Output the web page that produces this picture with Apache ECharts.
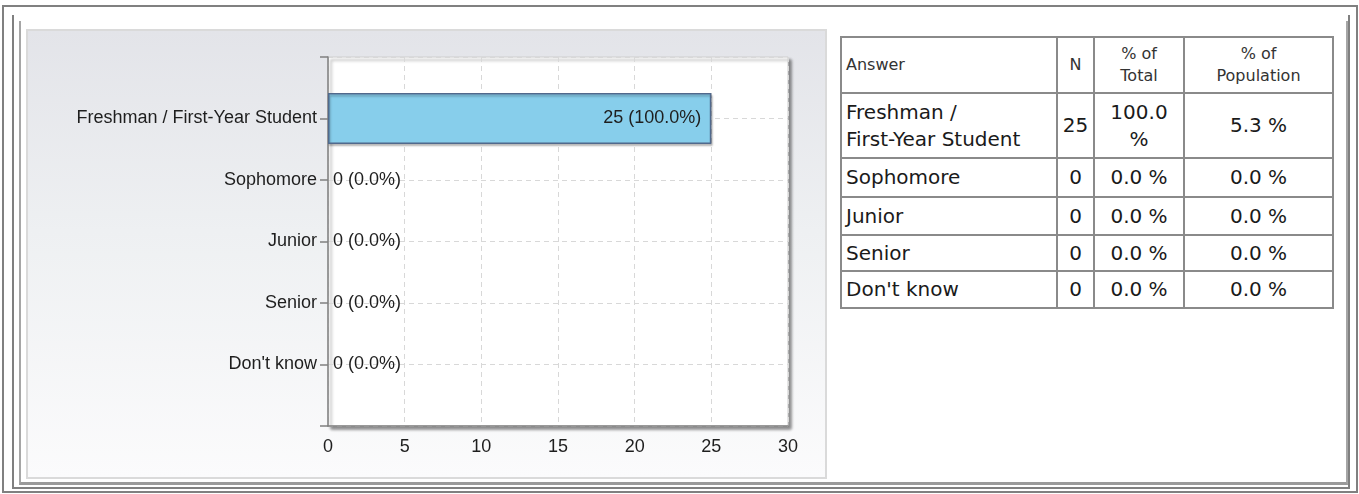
<!DOCTYPE html>
<html>
<head>
<meta charset="utf-8">
<script src="https://cdn.jsdelivr.net/npm/echarts@6/dist/echarts.min.js"></script>
<style>
    html, body { margin: 0; padding: 0; background: #fff; }
    body { width: 1359px; height: 494px; position: relative; overflow: hidden; }
    .frame { position: absolute; box-sizing: border-box; }
    #outer { left: 2px; top: 5px; width: 1356px; height: 488px; border: 2px solid #808080; }
    #inner1 { left: 12px; top: 15px; width: 1338px; height: 474px; border: 2px solid #808080; border-top: none; }
    #inner2 { left: 19px; top: 21px; width: 1329px; height: 464px; border-left: 2px solid #a6a6a6; border-right: 2px solid #a6a6a6; border-bottom: 3px solid #9a9a9a; }
    #panel {
        position: absolute; left: 26px; top: 29px; width: 801px; height: 450px; box-sizing: border-box;
        border: 2px solid #dadada;
        background: linear-gradient(to bottom, #e3e4e9 0%, #eef0f2 45%, #fbfbfc 100%);
    }
    #answer_chart { position: absolute; left: 0; top: 0; width: 797px; height: 446px; }
    #answer_table {
        position: absolute; left: 840px; top: 36px; width: 492px;
        border-collapse: collapse; table-layout: fixed;
        font-family: "DejaVu Sans", Verdana, sans-serif; color: #1a1a1a;
    }
    #answer_table td, #answer_table th {
        border: 2px solid #8a8a8a; padding: 0 4px; font-weight: normal;
        font-size: 20px; line-height: 27px; text-align: center;
    }
    #answer_table th { font-size: 16px; line-height: 22px; height: 54px; color: #333; }
    #answer_table .ans { text-align: left; }
    #answer_table .num { padding: 0 1px; }
</style>
</head>
<body>
<div class="frame" id="outer"></div>
<div class="frame" id="inner1"></div>
<div class="frame" id="inner2"></div>
<div id="panel"><div id="answer_chart"></div></div>
<table id="answer_table">
    <colgroup><col style="width:216px"><col style="width:37px"><col style="width:90px"><col style="width:149px"></colgroup>
    <thead><tr><th class="ans">Answer</th><th class="num">N</th><th>% of<br>Total</th><th>% of<br>Population</th></tr></thead>
    <tbody id="answer_rows"></tbody>
</table>

<script>
// values
const answers = ['Freshman / First-Year Student', 'Sophomore', 'Junior', 'Senior', "Don't know"];
const tableAnswers = ['Freshman /<br>First-Year Student', 'Sophomore', 'Junior', 'Senior', "Don't know"];
const counts = [25, 0, 0, 0, 0];
const pctTotal = [100.0, 0.0, 0.0, 0.0, 0.0];
const pctPopulation = [5.3, 0.0, 0.0, 0.0, 0.0];
const rowHeights = [65, 39, 38, 36, 37];

const xMin = 0;
const xMax = 30;
const xStep = 5;

// table on the right
let rows = '';
answers.forEach(function (a, i) {
    rows += '<tr style="height:' + rowHeights[i] + 'px">' +
        '<td class="ans">' + tableAnswers[i] + '</td>' +
        '<td class="num">' + counts[i] + '</td>' +
        '<td>' + pctTotal[i].toFixed(1) + ' %</td>' +
        '<td>' + pctPopulation[i].toFixed(1) + ' %</td></tr>';
});
document.getElementById('answer_rows').innerHTML = rows;

// blank slots above and below so the bands line up with the ticks
const yCats = [''].concat(answers, ['']);

const labelFont = {
    color: '#1e1e1e',
    fontSize: 18,
    fontFamily: '"Liberation Sans", Arial, sans-serif'
};

const option = {
    animation: false,
    grid: {
        show: true,
        left: 300,
        top: 26,
        right: 37,
        bottom: 51,
        backgroundColor: '#fff',
        borderColor: '#cfcfcf',
        borderWidth: 1,
        shadowColor: 'rgba(0,0,0,0.45)',
        shadowBlur: 3,
        shadowOffsetX: 3,
        shadowOffsetY: 3
    },
    xAxis: {
        type: 'value',
        min: xMin,
        max: xMax,
        interval: xStep,
        axisLine: {show: true, lineStyle: {color: '#808080', width: 1.5}},
        axisTick: {show: false},
        axisLabel: Object.assign({margin: 12}, labelFont),
        splitLine: {
            show: true,
            lineStyle: {type: [5, 4], color: '#d8d8d8', width: 1}
        }
    },
    yAxis: {
        type: 'category',
        inverse: true,
        boundaryGap: false,
        data: yCats,
        axisLine: {show: true, lineStyle: {color: '#808080', width: 1.5}},
        axisTick: {show: true, length: 8, interval: 0, lineStyle: {color: '#808080', width: 1.5}},
        axisLabel: Object.assign({margin: 11, interval: 0}, labelFont),
        splitLine: {
            show: true,
            interval: 0,
            lineStyle: {type: [5, 4], color: '#d8d8d8', width: 1}
        }
    },
    series: [
        {
            name: 'Answer',
            type: 'bar',
            barWidth: 51,
            encode: {x: 0, y: 1},
            data: counts.map(function (v, i) {
                return {
                    value: [v, answers[i]],
                    itemStyle: {borderWidth: v > 0 ? 1.5 : 0},
                    label: {
                        position: v > 0 ? 'insideRight' : 'right',
                        distance: v > 0 ? 10 : 5
                    }
                };
            }),
            itemStyle: {
                color: '#87ceeb',
                borderColor: '#51698c',
                shadowColor: 'rgba(0,0,0,0.25)',
                shadowBlur: 2,
                shadowOffsetX: 1,
                shadowOffsetY: 2
            },
            label: Object.assign({
                show: true,
                formatter: function (p) {
                    const i = p.dataIndex;
                    return counts[i] + ' (' + pctTotal[i].toFixed(1) + '%)';
                }
            }, labelFont)
        }
    ]
};

const chart = echarts.init(document.getElementById('answer_chart'));
chart.setOption(option);

window.addEventListener('resize', function () {
    chart.resize();
});
</script>
</body>
</html>
